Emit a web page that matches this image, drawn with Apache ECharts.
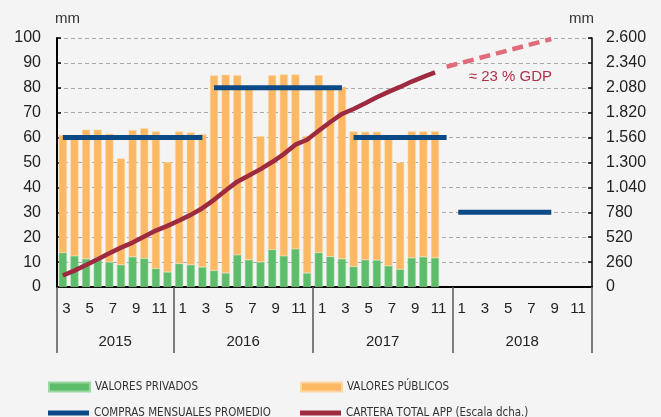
<!DOCTYPE html>
<html>
<head>
<meta charset="utf-8">
<script src="https://cdn.jsdelivr.net/npm/echarts@6/dist/echarts.min.js"></script>
<style>
  html, body { margin: 0; padding: 0; background: #f4f4f4; }
  #chart { width: 661px; height: 417px; }
</style>
</head>
<body>
<div id="chart"></div>
<script>
// meses (mar 2015 - dic 2018)
const meses = [
  '2015-03', '2015-04', '2015-05', '2015-06', '2015-07', '2015-08', '2015-09', '2015-10', '2015-11', '2015-12',
  '2016-01', '2016-02', '2016-03', '2016-04', '2016-05', '2016-06', '2016-07', '2016-08', '2016-09', '2016-10', '2016-11', '2016-12',
  '2017-01', '2017-02', '2017-03', '2017-04', '2017-05', '2017-06', '2017-07', '2017-08', '2017-09', '2017-10', '2017-11', '2017-12',
  '2018-01', '2018-02', '2018-03', '2018-04', '2018-05', '2018-06', '2018-07', '2018-08', '2018-09', '2018-10', '2018-11', '2018-12'
]
// limites de año (47 posiciones, etiqueta en el centro de cada año)
const anios = [
  '', '', '', '', '', '2015', '', '', '', '', '',
  '', '', '', '', '', '2016', '', '', '', '', '', '',
  '', '', '', '', '', '2017', '', '', '', '', '', '',
  '', '', '', '', '', '2018', '', '', '', '', '', ''
]
const limitesAnio = [0, 10, 22, 34, 46]

// compras mensuales (mm), mar 2015 - nov 2017
const valoresPrivados = [
  13.8, 12.5, 11.3, 10.9, 10.0, 8.9, 12.1, 11.5, 7.4, 6.0,
  9.4, 8.9, 8.0, 6.6, 5.6, 12.9, 10.9, 10.0, 15.0, 12.5, 15.3, 5.6,
  13.8, 12.2, 11.3, 8.2, 10.9, 10.8, 8.5, 7.1, 11.7, 12.1, 11.7
]
const valoresPublicos = [
  47.2, 47.5, 51.9, 52.3, 51.5, 42.7, 50.9, 52.3, 55.1, 44.2,
  53.0, 53.1, 53.3, 78.3, 79.6, 72.1, 69.1, 50.5, 70.0, 72.8, 70.0, 55.0,
  71.2, 67.8, 69.1, 54.3, 51.4, 51.5, 51.0, 42.9, 50.8, 50.4, 50.8
]
// cartera total APP (escala dcha.)
const carteraTotal = [
  120, 171, 230, 290, 352, 411, 464, 527, 589, 638,
  694, 753, 823, 910, 1008, 1100, 1165, 1231, 1305, 1388, 1486, 1538,
  1632, 1723, 1807, 1859, 1918, 1981, 2037, 2089, 2145, 2194, 2240
]
const carteraProyeccion = [['2017-12', 2300], ['2018-09', 2590]]

// compras mensuales promedio por tramo
const promedioTramos = [
  [['2015-03', 60], ['2016-03', 60]],
  [['2016-04', 80], ['2017-03', 80]],
  [['2017-04', 60], ['2017-12', 60]],
  [['2018-01', 30], ['2018-09', 30]]
]

const leftTicks = [0, 100, 10]
const rightTicks = [0, 2600, 260]

const textColor = '#222'
const font = 'Liberation Sans'
const legendFont = "'DejaVu Sans Condensed', 'Liberation Sans Narrow', 'Roboto', sans-serif"

const chart = echarts.init(document.getElementById('chart'), null, { renderer: 'canvas' })

const promedioSeries = promedioTramos.map(tramo => ({
  name: 'COMPRAS MENSUALES PROMEDIO',
  type: 'line',
  data: tramo,
  symbol: 'none',
  z: 4,
  lineStyle: { color: '#0b4a87', width: 5, cap: 'butt' },
  itemStyle: { color: '#0b4a87' }
}))

// una leyenda por elemento (rejilla 2x2)
function legendItem(name, left, top, h) {
  return {
    left: left, top: top, itemWidth: 41, itemHeight: h,
    icon: 'rect',
    textStyle: { fontFamily: legendFont, fontSize: 11.5, color: '#333' },
    data: [name]
  }
}

const option = {
  backgroundColor: '#f4f4f4',
  animation: false,
  grid: { left: 57, right: 69, top: 38, bottom: 130 },
  legend: [
    legendItem('VALORES PRIVADOS', 43, 376, 9),
    legendItem('COMPRAS MENSUALES PROMEDIO', 43, 402, 5),
    legendItem('VALORES PÚBLICOS', 295, 376, 9),
    legendItem('CARTERA TOTAL APP (Escala dcha.)', 295, 402, 5)
  ],
  xAxis: [
    {
      type: 'category',
      data: meses,
      axisLine: { lineStyle: { color: '#000', width: 2 } },
      axisTick: { show: false },
      axisLabel: {
        interval: 1,
        margin: 14,
        padding: [0, 0, 0, 7],
        fontFamily: font,
        fontSize: 15,
        color: textColor,
        formatter: v => String(parseInt(v.slice(5), 10))
      },
      splitLine: { show: false }
    },
    {
      type: 'category',
      position: 'bottom',
      boundaryGap: false,
      data: anios,
      axisLine: { show: false },
      axisTick: {
        show: true,
        length: 66,
        interval: (i) => limitesAnio.indexOf(i) >= 0,
        lineStyle: { color: '#555', width: 1.5 }
      },
      axisLabel: {
        interval: (i, v) => v !== '',
        margin: 47,
        fontFamily: font,
        fontSize: 15,
        color: textColor
      },
      splitLine: { show: false }
    }
  ],
  yAxis: [
    {
      type: 'value',
      min: leftTicks[0], max: leftTicks[1], interval: leftTicks[2],
      name: 'mm',
      nameGap: 12,
      nameTextStyle: { fontFamily: font, fontSize: 15, color: '#333', align: 'left', padding: [0, 0, 0, -2] },
      axisLine: { show: true, lineStyle: { color: '#000', width: 2 } },
      axisTick: { show: true, inside: true, length: 4, lineStyle: { color: '#000', width: 1.5 } },
      axisLabel: { margin: 16, fontFamily: font, fontSize: 16, color: textColor },
      splitLine: { lineStyle: { color: '#aaa', type: [4, 3], width: 1 } }
    },
    {
      type: 'value',
      min: rightTicks[0], max: rightTicks[1], interval: rightTicks[2],
      name: 'mm',
      nameGap: 12,
      nameTextStyle: { fontFamily: font, fontSize: 15, color: '#333', align: 'right', padding: [0, -2, 0, 0] },
      axisLine: { show: true, lineStyle: { color: '#000', width: 1.5 } },
      axisTick: { show: true, inside: true, length: 4, lineStyle: { color: '#000', width: 1.5 } },
      axisLabel: {
        margin: 14, fontFamily: font, fontSize: 16, color: textColor,
        formatter: v => String(v).replace(/\B(?=(\d{3})+(?!\d))/g, '.')
      },
      splitLine: { show: false }
    }
  ],
  series: [
    {
      name: 'VALORES PRIVADOS',
      type: 'bar',
      stack: 'compras',
      data: valoresPrivados,
      barWidth: 8,
      itemStyle: { color: '#5dbd6a', borderColor: '#9ad6a0', borderWidth: 0.5 }
    },
    {
      name: 'VALORES PÚBLICOS',
      type: 'bar',
      stack: 'compras',
      data: valoresPublicos,
      barWidth: 8,
      itemStyle: { color: '#fdb863', borderColor: '#fdd6a3', borderWidth: 0.5 }
    },
    ...promedioSeries,
    {
      name: 'CARTERA TOTAL APP (Escala dcha.)',
      type: 'line',
      yAxisIndex: 1,
      data: carteraTotal,
      symbol: 'none',
      z: 5,
      lineStyle: { color: '#9e2a40', width: 4.5 },
      itemStyle: { color: '#9e2a40' }
    },
    {
      name: 'proyeccion',
      type: 'line',
      yAxisIndex: 1,
      data: carteraProyeccion,
      symbol: 'none',
      z: 5,
      lineStyle: { color: '#e06b7b', width: 4.5, type: [11, 6] },
      itemStyle: { color: '#e06b7b' }
    }
  ],
  graphic: [
    {
      type: 'text',
      right: 109,
      top: 69,
      style: { text: '≈ 23 % GDP', fontFamily: font, fontSize: 15, fill: '#b0304a' }
    }
  ]
}

chart.setOption(option)
</script>
</body>
</html>
